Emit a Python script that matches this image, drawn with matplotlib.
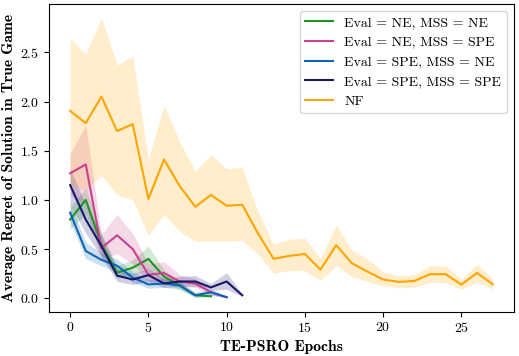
import numpy as np
import matplotlib
matplotlib.use("Agg")
import matplotlib.pyplot as plt

plt.rcParams["font.family"] = "serif"
plt.rcParams["font.serif"] = ["cmr10"]
plt.rcParams["mathtext.fontset"] = "cm"
plt.rcParams["axes.formatter.use_mathtext"] = True
plt.rcParams["axes.unicode_minus"] = False

# mean regret per epoch, with band bounds
ne_ne = [0.80, 1.00, 0.55, 0.26, 0.31, 0.40, 0.22, 0.13, 0.03, 0.02]
ne_ne_lo = [0.70, 0.86, 0.45, 0.20, 0.24, 0.29, 0.16, 0.09, 0.01, 0.01]
ne_ne_hi = [0.92, 1.12, 0.66, 0.33, 0.39, 0.53, 0.29, 0.17, 0.05, 0.03]

ne_spe = [1.27, 1.36, 0.51, 0.64, 0.50, 0.24, 0.255, 0.17, 0.15, 0.06, 0.01]
ne_spe_lo = [1.05, 0.95, 0.40, 0.45, 0.35, 0.17, 0.17, 0.12, 0.11, 0.03, 0.005]
ne_spe_hi = [1.47, 1.76, 0.65, 0.85, 0.66, 0.35, 0.37, 0.24, 0.20, 0.09, 0.02]

spe_ne = [0.87, 0.48, 0.39, 0.33, 0.21, 0.14, 0.15, 0.13, 0.03, 0.06, 0.01]
spe_ne_lo = [0.78, 0.40, 0.33, 0.27, 0.16, 0.10, 0.11, 0.09, 0.01, 0.03, 0.005]
spe_ne_hi = [0.97, 0.57, 0.46, 0.40, 0.27, 0.19, 0.20, 0.17, 0.06, 0.09, 0.02]

spe_spe = [1.15, 0.80, 0.53, 0.23, 0.19, 0.235, 0.15, 0.17, 0.17, 0.11, 0.17, 0.03]
spe_spe_lo = [0.95, 0.66, 0.42, 0.17, 0.14, 0.17, 0.11, 0.12, 0.12, 0.08, 0.09, 0.02]
spe_spe_hi = [1.32, 0.95, 0.64, 0.30, 0.25, 0.30, 0.20, 0.22, 0.23, 0.15, 0.26, 0.04]

nf = [1.905, 1.78, 2.05, 1.70, 1.77, 1.01, 1.41, 1.14, 0.93, 1.05, 0.94, 0.95, 0.66, 0.40,
      0.43, 0.45, 0.29, 0.54, 0.356, 0.27, 0.19, 0.166, 0.176, 0.244, 0.244, 0.138, 0.257, 0.142]
nf_lo = [1.15, 1.10, 1.25, 1.05, 1.00, 0.64, 0.85, 0.68, 0.58, 0.58, 0.58, 0.59, 0.45, 0.254,
         0.28, 0.28, 0.18, 0.33, 0.22, 0.17, 0.125, 0.108, 0.11, 0.16, 0.16, 0.09, 0.163, 0.095]
nf_hi = [2.645, 2.48, 2.85, 2.37, 2.46, 1.41, 1.96, 1.59, 1.29, 1.46, 1.315, 1.33, 0.88, 0.55,
         0.60, 0.61, 0.40, 0.745, 0.49, 0.40, 0.27, 0.227, 0.24, 0.33, 0.33, 0.19, 0.345, 0.20]

series = [
    ("Eval = NE, MSS = NE", ne_ne, ne_ne_lo, ne_ne_hi, "#1f9326"),
    ("Eval = NE, MSS = SPE", ne_spe, ne_spe_lo, ne_spe_hi, "#c9418f"),
    ("Eval = SPE, MSS = NE", spe_ne, spe_ne_lo, spe_ne_hi, "#0b67b5"),
    ("Eval = SPE, MSS = SPE", spe_spe, spe_spe_lo, spe_spe_hi, "#17176b"),
    ("NF", nf, nf_lo, nf_hi, "#ffa500"),
]

fig = plt.figure(figsize=(5.19, 3.56), dpi=100)
ax = fig.add_axes([0.0944, 0.1244, 0.8956, 0.8646])

for name, mean, lo, hi, col in series:
    x = np.arange(len(mean))
    ax.fill_between(x, lo, hi, color=col, alpha=0.2, linewidth=0)
    ax.plot(x, mean, color=col, lw=1.5, label=name)

ax.set_xticks([0, 5, 10, 15, 20, 25])
ax.set_yticks([0.0, 0.5, 1.0, 1.5, 2.0, 2.5])
ax.tick_params(labelsize=10)
ax.set_xlabel("TE-PSRO Epochs", family="cmb10", fontsize=11.3, labelpad=3)
ax.set_ylabel("Average Regret of Solution in True Game", family="cmb10", fontsize=11.2, labelpad=3)
ax.legend(loc="upper right", fontsize=10)

fig.savefig("out.png", dpi=100)
